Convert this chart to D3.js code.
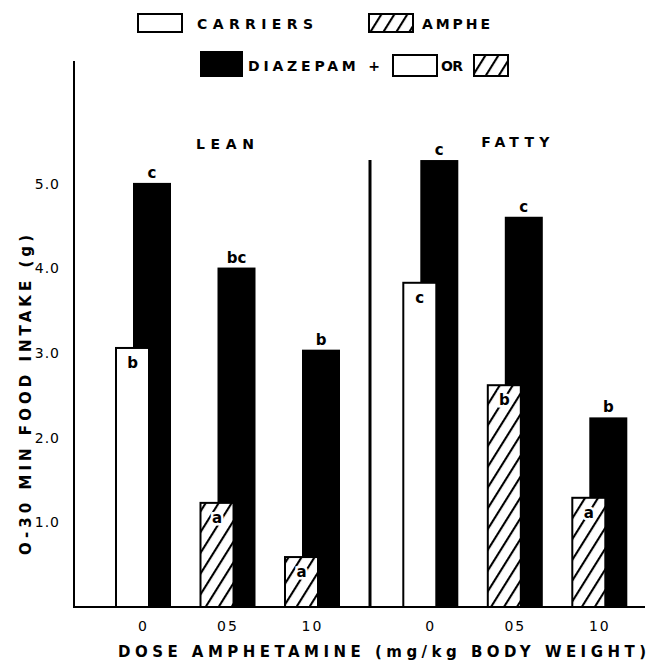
<!DOCTYPE html>
<html>
<head>
<meta charset="utf-8">
<script src="https://cdn.jsdelivr.net/npm/d3@7"></script>
<style>
  html, body { margin: 0; padding: 0; background: #fff; }
  svg text { font-family: "DejaVu Sans", sans-serif; fill: #000; }
</style>
</head>
<body>
<div id="chart"></div>
<script>
// ---- data ----
const groups = ["LEAN", "FATTY"];
const doses = ["0", "05", "10"];
const frontValues = [[3.06, 1.23, 0.59], [3.83, 2.62, 1.29]];      // carriers (0) / amphe (05, 10)
const frontLetters = [["b", "a", "a"], ["c", "b", "a"]];
const diazepamValues = [[5.01, 4.01, 3.04], [5.28, 4.61, 2.24]];  // diazepam + carrier / amphe
const diazepamLetters = [["c", "bc", "b"], ["c", "c", "b"]];
const yTicks = [1, 2, 3, 4, 5];
const yTickLabels = ["1.0", "2.0", "3.0", "4.0", "5.0"];

const W = 652, H = 665;
const svg = d3.select("#chart").append("svg").attr("width", W).attr("height", H);

const defs = svg.append("defs");
const pat = defs.append("pattern").attr("id", "hatch")
  .attr("patternUnits", "userSpaceOnUse").attr("width", 11).attr("height", 11)
  .attr("patternTransform", "rotate(32)");
pat.append("rect").attr("width", 11).attr("height", 11).attr("fill", "#fff");
pat.append("line").attr("x1", 1).attr("y1", 0).attr("x2", 1).attr("y2", 11)
  .attr("stroke", "#000").attr("stroke-width", 2.2);

// ---- scales ----
const y = d3.scaleLinear().domain([0, 6.45]).range([607, 61]);
const slot = d3.scaleLinear().domain([0, 1]).range([116, 200.5]);
const groupSpan = 3.4;
const frontW = 33, backOff = 17, backW = 38;

// ---- axes ----
svg.append("line").attr("x1", 74).attr("x2", 74).attr("y1", y(6.45)).attr("y2", y(0) + 1)
  .attr("stroke", "#000").attr("stroke-width", 2);
svg.append("line").attr("x1", 73).attr("x2", 645).attr("y1", y(0)).attr("y2", y(0))
  .attr("stroke", "#000").attr("stroke-width", 2);

const yAxis = d3.axisLeft(y).tickValues(yTicks).tickSize(0)
  .tickFormat((d, i) => yTickLabels[i]);
const ya = svg.append("g").attr("transform", "translate(63,0)").call(yAxis);
ya.select(".domain").remove();
ya.selectAll("text").attr("font-size", 14).attr("dx", 0).attr("letter-spacing", 1)
  .attr("font-family", "DejaVu Sans");

// divider
svg.append("line").attr("x1", 370).attr("x2", 370).attr("y1", 160).attr("y2", y(0))
  .attr("stroke", "#000").attr("stroke-width", 3);

// ---- bars ----
groups.forEach((g, gi) => {
  doses.forEach((d, di) => {
    const x0 = slot(gi * groupSpan + di);
    // back (diazepam) bar
    const bv = diazepamValues[gi][di];
    svg.append("rect").attr("x", x0 + backOff).attr("y", y(bv))
      .attr("width", backW).attr("height", y(0) - y(bv)).attr("fill", "#000");
    svg.append("text").attr("x", x0 + backOff + backW / 2).attr("y", y(bv) - 5)
      .attr("text-anchor", "middle").attr("font-size", 15).attr("font-weight", "bold")
      .text(diazepamLetters[gi][di]);
    // front bar
    const fv = frontValues[gi][di];
    svg.append("rect").attr("x", x0).attr("y", y(fv))
      .attr("width", frontW).attr("height", y(0) - y(fv))
      .attr("fill", di === 0 ? "#fff" : "url(#hatch)")
      .attr("stroke", "#000").attr("stroke-width", 2);
    const lt = svg.append("text").attr("x", x0 + frontW / 2).attr("y", y(fv) + 20)
      .attr("text-anchor", "middle").attr("font-size", 15).attr("font-weight", "bold")
      .text(frontLetters[gi][di]);
    if (di !== 0) {
      lt.attr("stroke", "#fff").attr("stroke-width", 5).attr("paint-order", "stroke");
    }
    // x tick label
    svg.append("text").attr("x", x0 + (backOff + backW) / 2).attr("y", 631)
      .attr("text-anchor", "middle").attr("font-size", 14).attr("letter-spacing", 2)
      .text(d);
  });
  // group title
  const gx = (slot(gi * groupSpan) + slot(gi * groupSpan + 2) + backOff + backW) / 2;
  svg.append("text").attr("x", gx - (gi === 0 ? 3 : 0)).attr("y", gi === 0 ? 149 : 147)
    .attr("text-anchor", "middle").attr("font-size", 14).attr("font-weight", "bold")
    .attr("textLength", gi === 0 ? 58 : 68).attr("lengthAdjust", "spacing")
    .text(g);
});

// ---- axis titles ----
svg.append("text").attr("x", 118).attr("y", 657).attr("font-size", 15).attr("font-weight", "bold")
  .attr("textLength", 528).attr("lengthAdjust", "spacing")
  .text("DOSE  AMPHETAMINE  (mg/kg  BODY  WEIGHT)");
svg.append("text").attr("transform", "translate(31,395) rotate(-90)")
  .attr("text-anchor", "middle").attr("font-size", 15).attr("font-weight", "bold")
  .attr("textLength", 320).attr("lengthAdjust", "spacing")
  .text("O-30 MIN FOOD INTAKE (g)");

// ---- legend ----
const leg = svg.append("g");
function box(x, yy, w, h, fill) {
  leg.append("rect").attr("x", x).attr("y", yy).attr("width", w).attr("height", h)
    .attr("fill", fill).attr("stroke", "#000").attr("stroke-width", 2);
}
function ltext(x, yy, len, s) {
  leg.append("text").attr("x", x).attr("y", yy).attr("font-size", 14).attr("font-weight", "bold")
    .attr("textLength", len).attr("lengthAdjust", "spacing").text(s);
}
box(138, 14, 44, 18, "#fff");
ltext(197, 29, 116, "CARRIERS");
box(369, 14, 44, 18, "url(#hatch)");
ltext(422, 29, 68, "AMPHE");
leg.append("rect").attr("x", 200).attr("y", 51).attr("width", 43).attr("height", 26).attr("fill", "#000");
ltext(248, 71, 132, "DIAZEPAM +");
box(393, 55, 44, 21, "#fff");
ltext(441, 71, 22, "OR");
box(474, 55, 34, 21, "url(#hatch)");
</script>
</body>
</html>
